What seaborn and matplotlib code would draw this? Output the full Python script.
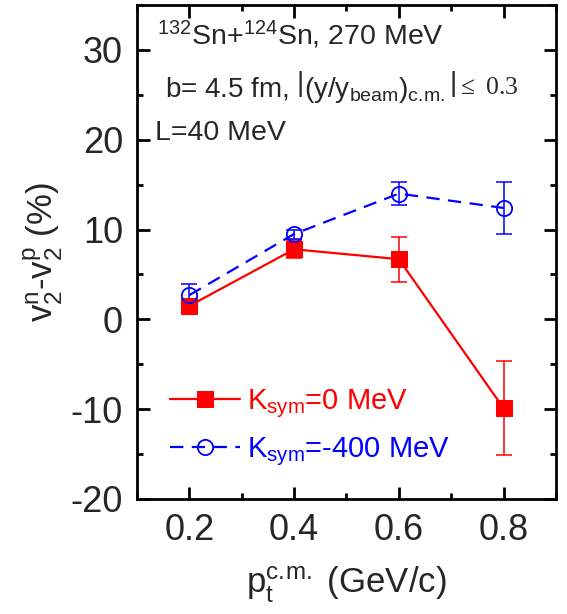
import numpy as np
import pandas as pd
import matplotlib
matplotlib.use("Agg")
import matplotlib.pyplot as plt
from matplotlib.ticker import MultipleLocator
import seaborn as sns

# Transverse momentum bins (GeV/c)
pt = [0.2, 0.4, 0.6, 0.8]

# Elliptic flow difference v2^n - v2^p (%) and its uncertainty
ksym0_val = [1.5, 7.8, 6.7, -9.9]
ksym0_err = [0.5, 1.0, 2.5, 5.25]
ksym400_val = [2.7, 9.5, 14.0, 12.4]
ksym400_err = [1.2, 0.5, 1.3, 2.9]

series_labels = [r"K$_{sym}$=0 MeV", r"K$_{sym}$=-400 MeV"]
series_colors = ["#ff0000", "#0000ff"]

sns.set_style("ticks")
plt.rcParams["font.family"] = ["Liberation Sans", "DejaVu Sans"]
plt.rcParams["mathtext.fontset"] = "custom"
plt.rcParams["mathtext.rm"] = "Liberation Sans"
plt.rcParams["mathtext.it"] = "Liberation Sans:italic"
plt.rcParams["mathtext.default"] = "regular"

df = pd.DataFrame({
    "pt": pt + pt,
    "dv2": ksym0_val + ksym400_val,
    "err": ksym0_err + ksym400_err,
    "model": [series_labels[0]] * len(pt) + [series_labels[1]] * len(pt),
})

fig = plt.figure(figsize=(5.67, 6.14), dpi=100)
ax = fig.add_axes([0.2416, 0.1873, 0.739, 0.8046])

# error bars underneath the markers
for (lab, col) in zip(series_labels, series_colors):
    sub = df[df["model"] == lab]
    ax.errorbar(sub["pt"], sub["dv2"], yerr=sub["err"], fmt="none",
                ecolor=col, elinewidth=1.1, capsize=5.8, capthick=1.1, zorder=2)

sns.lineplot(data=df, x="pt", y="dv2", hue="model", style="model",
             hue_order=series_labels, style_order=series_labels,
             palette=series_colors,
             markers={series_labels[0]: "s", series_labels[1]: "o"},
             dashes={series_labels[0]: "", series_labels[1]: (6, 3.8)},
             markersize=11, linewidth=1.6, ax=ax, zorder=3)

# solid squares for K_sym=0, hollow circles for K_sym=-400
for line in ax.get_lines():
    if line.get_marker() == "o":
        line.set_markerfacecolor("none")
        line.set_markeredgecolor(series_colors[1])
        line.set_markeredgewidth(1.3)
    elif line.get_marker() == "s":
        line.set_markerfacecolor(series_colors[0])
        line.set_markeredgecolor(series_colors[0])

ax.set_xlim(0.1, 0.9)
ax.set_ylim(-20, 35)
ax.xaxis.set_minor_locator(MultipleLocator(0.1))
ax.yaxis.set_minor_locator(MultipleLocator(5))
ax.set_xticks([0.2, 0.4, 0.6, 0.8])
ax.set_xticklabels(["0.2", "0.4", "0.6", "0.8"])
ax.set_yticks([-20, -10, 0, 10, 20, 30])
ax.set_yticklabels(["-20", "-10", "0", "10", "20", "30"])

ax.tick_params(which="both", direction="in", top=True, right=True,
               width=2, labelsize=26, pad=10, color="black")
ax.tick_params(which="major", length=9)
ax.tick_params(which="minor", length=4.5)
for sp in ax.spines.values():
    sp.set_linewidth(2)
    sp.set_color("black")

ax.set_xlabel(r"p$_t^{c.\!m.}$ (GeV/c)", fontsize=25, labelpad=12)
ax.set_ylabel(r"v$_2^n$-v$_2^p$ (%)", fontsize=25, labelpad=4)

ax.text(0.389, 0.919, r"$^{132}$Sn+$^{124}$Sn, 270 MeV", transform=ax.transAxes,
        ha="center", va="baseline", fontsize=20.5)
t2 = ax.text(0.067, 0.814, r"b= 4.5 fm, $\left|\right.$(y/y$_{beam}$)$_{c.\!m.}\left.\right|$",
             transform=ax.transAxes, ha="left", va="baseline", fontsize=20)
ax.annotate(r"$\leq$ 0.3", xy=(1.0, 0.3), xycoords=t2, ha="left", va="baseline",
            xytext=(0, 0), textcoords="offset points",
            fontsize=18.5, family=["Liberation Serif", "DejaVu Serif"])
ax.text(0.043, 0.727, "L=40 MeV", transform=ax.transAxes,
        ha="left", va="baseline", fontsize=20.5)

leg = ax.legend(loc="lower left", bbox_to_anchor=(0.05, 0.04), frameon=False,
                fontsize=21, handlelength=2.4, handletextpad=0.25,
                labelspacing=0.5, borderaxespad=0)
for txt, col in zip(leg.get_texts(), series_colors):
    txt.set_color(col)

fig.savefig("out.png", dpi=100)
